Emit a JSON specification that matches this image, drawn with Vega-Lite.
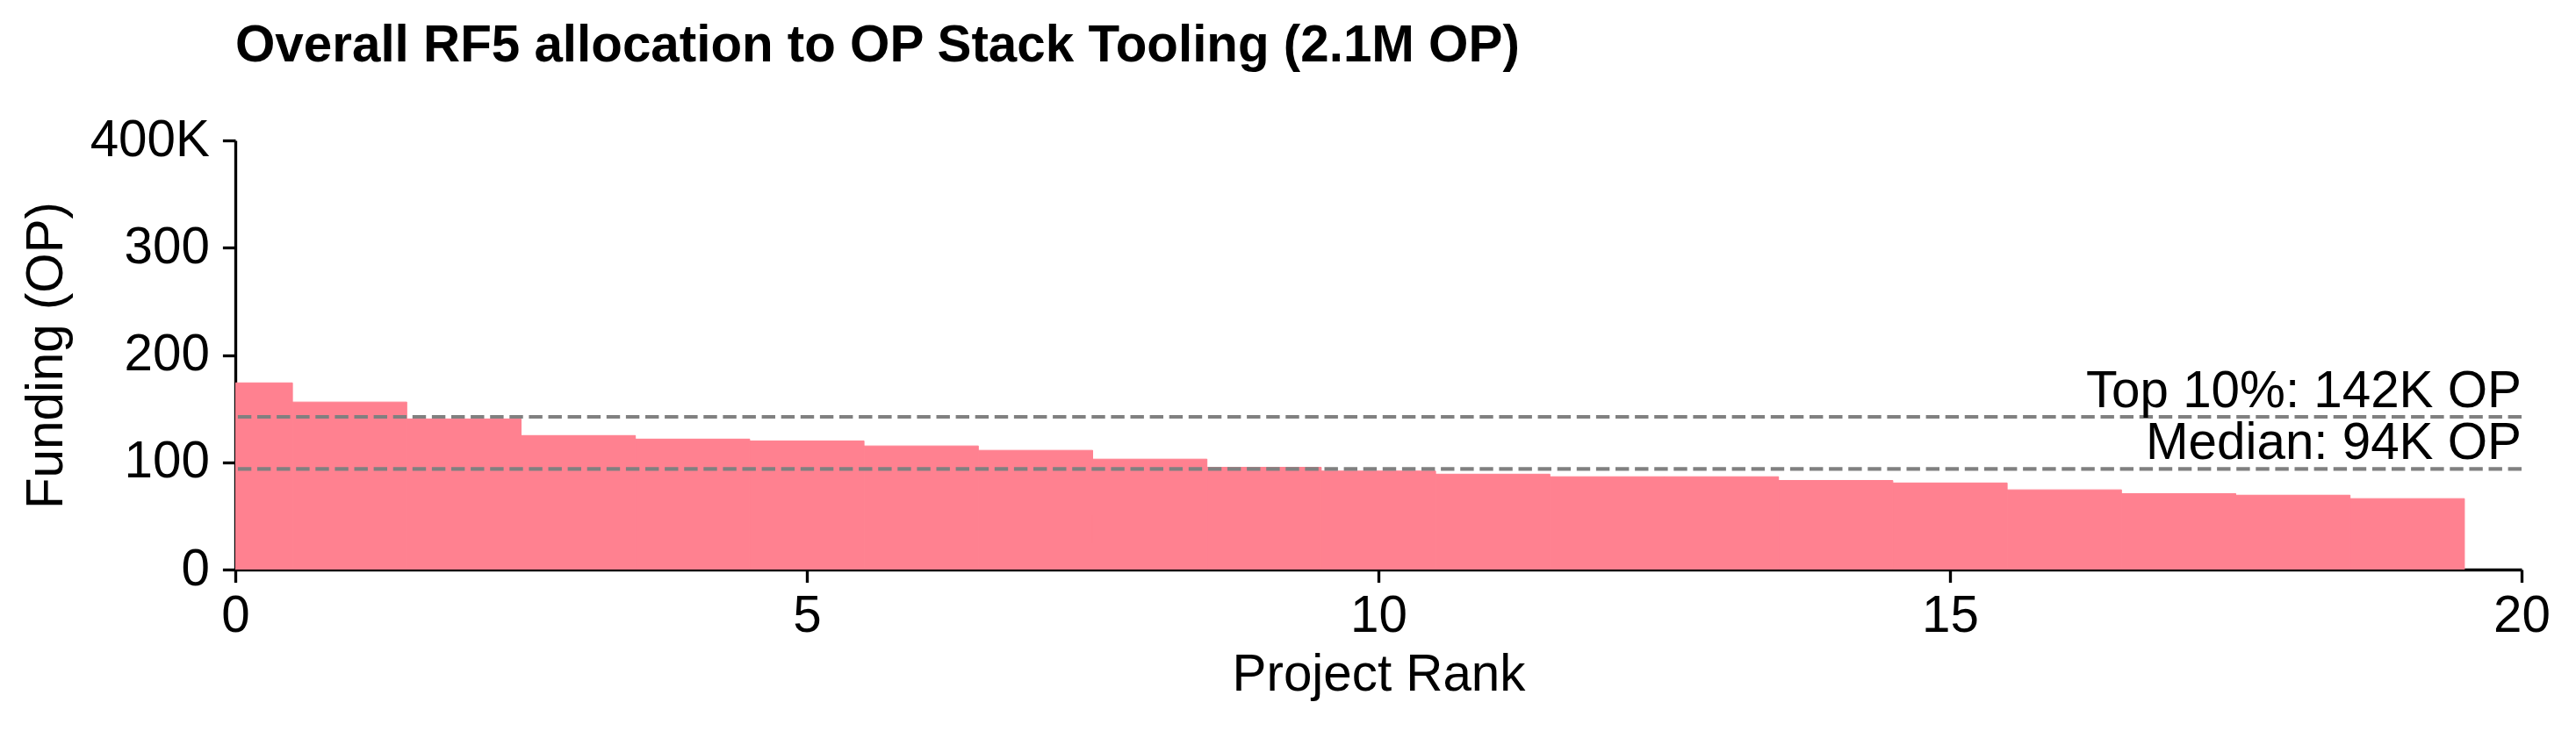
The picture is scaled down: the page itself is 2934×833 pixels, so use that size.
{
  "$schema": "https://vega.github.io/schema/vega-lite/v6.json",
  "autosize": "none",
  "padding": {"left": 268, "top": 160, "right": 62, "bottom": 184},
  "width": 2604,
  "height": 489,
  "background": "white",
  "title": {
    "text": "Overall RF5 allocation to OP Stack Tooling (2.1M OP)",
    "anchor": "start",
    "frame": "group",
    "font": "Liberation Sans",
    "fontSize": 58.33,
    "fontWeight": "bold",
    "color": "black",
    "baseline": "alphabetic",
    "offset": 2
  },
  "config": {
    "view": {"stroke": null},
    "axis": {
      "grid": false,
      "domainColor": "black",
      "domainWidth": 3.33,
      "tickColor": "black",
      "tickWidth": 3.33,
      "tickSize": 14.6,
      "labelFont": "Liberation Sans",
      "labelFontSize": 58.33,
      "labelColor": "black",
      "titleFont": "Liberation Sans",
      "titleFontSize": 58.33,
      "titleFontWeight": "normal",
      "titleColor": "black"
    }
  },
  "layer": [
    {
      "data": {
        "values": [
          {"rank": 0, "funding": 174000},
          {"rank": 1, "funding": 156100},
          {"rank": 2, "funding": 140400},
          {"rank": 3, "funding": 124900},
          {"rank": 4, "funding": 121600},
          {"rank": 5, "funding": 119900},
          {"rank": 6, "funding": 115200},
          {"rank": 7, "funding": 111100},
          {"rank": 8, "funding": 102900},
          {"rank": 9, "funding": 95300},
          {"rank": 10, "funding": 91800},
          {"rank": 11, "funding": 88900},
          {"rank": 12, "funding": 86500},
          {"rank": 13, "funding": 86500},
          {"rank": 14, "funding": 83000},
          {"rank": 15, "funding": 80700},
          {"rank": 16, "funding": 74300},
          {"rank": 17, "funding": 70800},
          {"rank": 18, "funding": 69300},
          {"rank": 19, "funding": 66100}
        ]
      },
      "transform": [
        {"calculate": "datum.rank - 0.5", "as": "lo"},
        {"calculate": "datum.rank + 0.5", "as": "hi"}
      ],
      "mark": {"type": "rect", "color": "#FF8190", "stroke": "#FF8190", "strokeWidth": 1, "clip": true},
      "encoding": {
        "x": {
          "field": "lo",
          "type": "quantitative",
          "scale": {"domain": [0, 20], "nice": false, "zero": false},
          "axis": {"values": [0, 5, 10, 15, 20], "format": "d", "title": "Project Rank", "labelPadding": 10, "titlePadding": 10, "labelFlush": false}
        },
        "x2": {"field": "hi"},
        "y": {
          "field": "funding",
          "type": "quantitative",
          "scale": {"domain": [0, 400000], "nice": false},
          "axis": {
            "values": [0, 100000, 200000, 300000, 400000],
            "labelExpr": "datum.value == 400000 ? '400K' : format(datum.value / 1000, 'd')",
            "title": "Funding (OP)",
            "labelPadding": 15,
            "titlePadding": 20,
            "labelFlush": false
          }
        },
        "y2": {"datum": 0}
      }
    },
    {
      "data": {
        "values": [
          {"label": "Top 10%: 142K OP", "value": 142300},
          {"label": "Median: 94K OP", "value": 93800}
        ]
      },
      "layer": [
        {
          "mark": {"type": "rule", "color": "#808080", "strokeWidth": 4.17, "strokeDash": [15.4, 6.7]},
          "encoding": {"y": {"field": "value", "type": "quantitative"}}
        },
        {
          "mark": {"type": "text", "align": "right", "baseline": "alphabetic", "dy": -11, "font": "Liberation Sans", "fontSize": 58.33, "color": "black"},
          "encoding": {
            "x": {"datum": 20, "type": "quantitative"},
            "y": {"field": "value", "type": "quantitative"},
            "text": {"field": "label"}
          }
        }
      ]
    }
  ]
}
